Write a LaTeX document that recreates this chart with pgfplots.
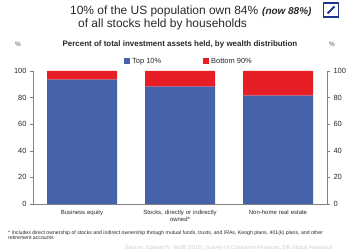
\documentclass[border=0pt]{standalone}
\usepackage{pgfplots}
\pgfplotsset{compat=1.18}
\usepackage{fontspec}
\setmainfont{Liberation Sans}
\definecolor{dbblue}{RGB}{70,98,170}
\definecolor{dbred}{RGB}{232,30,38}
\definecolor{logoblue}{RGB}{30,55,140}
\definecolor{txt}{RGB}{40,40,40}
\definecolor{axgray}{RGB}{130,130,130}
\begin{document}
\begin{tikzpicture}[x=1bp,y=1bp]
\useasboundingbox (0,0) rectangle (350,250);
% titles
\node[anchor=base west,font=\fontsize{12}{14}\selectfont,text=txt,inner sep=0] at (70,236) {10\% of the US population own 84\%};
\node[anchor=base west,font=\fontsize{10}{12}\selectfont\bfseries\itshape,text=txt,inner sep=0] at (262,236) {(now 88\%)};
\node[anchor=base west,font=\fontsize{12}{14}\selectfont,text=txt,inner sep=0] at (78,223) {of all stocks held by households};
% logo
\draw[logoblue,line width=1.8bp] (323.5,233) rectangle (338.5,247);
\draw[logoblue,line width=2bp] (327.5,236.5) -- (334.5,243.5);
% subtitle
\node[anchor=base,font=\fontsize{8}{9}\selectfont\bfseries,text=txt,inner sep=0] at (180,203.5) {Percent of total investment assets held, by wealth distribution};
\node[anchor=base,font=\fontsize{6.5}{8}\selectfont\bfseries,text=axgray,inner sep=0] at (18,203.5) {\%};
\node[anchor=base,font=\fontsize{6.5}{8}\selectfont\bfseries,text=axgray,inner sep=0] at (332,203.5) {\%};
% legend
\fill[dbblue] (124,186) rectangle (130,192);
\node[anchor=base west,font=\fontsize{7.5}{9}\selectfont,text=txt,inner sep=0] at (132,186.3) {Top 10\%};
\fill[dbred] (203,186) rectangle (209,192);
\node[anchor=base west,font=\fontsize{7.5}{9}\selectfont,text=txt,inner sep=0] at (211,186.3) {Bottom 90\%};
\begin{axis}[
  at={(33bp,46bp)}, anchor=south west,
  scale only axis, width=294bp, height=133bp,
  ybar stacked, bar width=70bp,
  xmin=-0.5, xmax=2.5, ymin=0, ymax=100,
  axis x line*=bottom, axis y line*=left,
  axis line style={axgray,line width=0.5pt},
  x axis line style={-}, y axis line style={-},
  xtick=data,
  xticklabels={Business equity,{Stocks, directly or indirectly\\owned*},Non-home real estate},
  x tick label style={font=\fontsize{6}{7}\selectfont, text=txt, align=center, text width=110bp},
  xtick style={draw=none},
  ytick={0,20,...,100},
  ytick style={axgray},
  tick align=outside, major tick length=3bp,
  y tick label style={font=\fontsize{7.5}{9}\selectfont, text=txt},
  /pgf/number format/assume math mode=true,
  clip=false,
]
\addplot[fill=dbblue,draw=none] coordinates {(0,93.5) (1,88.3) (2,81.4)};
\addplot[fill=dbred,draw=none] coordinates {(0,6.5) (1,11.7) (2,18.6)};
\end{axis}
\begin{axis}[
  at={(33bp,46bp)}, anchor=south west,
  scale only axis, width=294bp, height=133bp,
  xmin=-0.5, xmax=2.5, ymin=0, ymax=100,
  axis x line=none, axis y line*=right,
  axis line style={axgray,line width=0.5pt,-},
  ytick={0,20,...,100},
  ytick style={axgray},
  tick align=outside, major tick length=3bp,
  y tick label style={font=\fontsize{7.5}{9}\selectfont, text=txt},
  /pgf/number format/assume math mode=true,
]
\addplot[draw=none] coordinates {(0,0)};
\end{axis}
% footnote
\node[anchor=base west,font=\fontsize{5.2}{6}\selectfont,text=txt,inner sep=0] at (8,15.5) {* Includes direct ownership of stocks and indirect ownership through mutual funds, trusts, and IRAs, Keogh plans, 401(k) plans, and other};
\node[anchor=base west,font=\fontsize{5.2}{6}\selectfont,text=txt,inner sep=0] at (8,10.5) {retirement accounts};
\node[anchor=base west,font=\fontsize{5.5}{6}\selectfont,text=black!20,inner sep=0] at (125,1) {Source: Edward N. Wolff (2016), Survey of Consumer Finances, DB Global Research};
\end{tikzpicture}
\end{document}
